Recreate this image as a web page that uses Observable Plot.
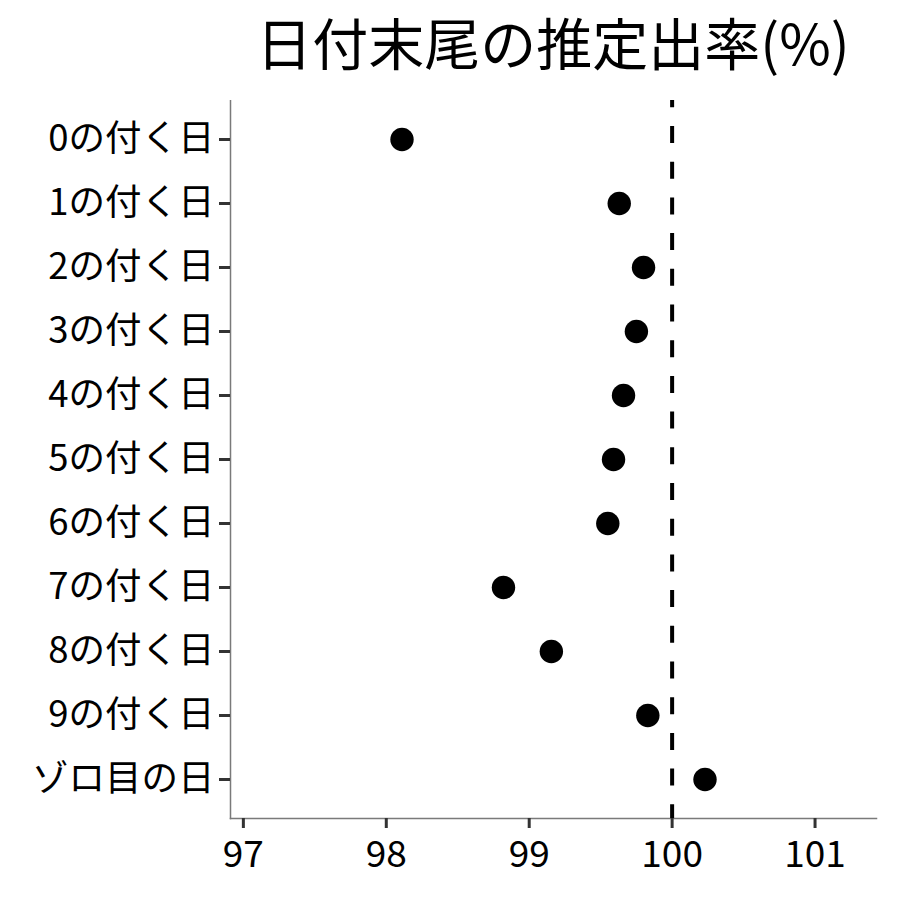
<!DOCTYPE html>
<html>
<head>
<meta charset="utf-8">
<script src="https://cdn.jsdelivr.net/npm/d3@7"></script>
<script src="https://cdn.jsdelivr.net/npm/@observablehq/plot@0.6"></script>
<style>
  html, body { margin: 0; padding: 0; background: #fff; }
  #title {
    width: 900px; height: 100px; box-sizing: border-box;
    padding-left: 206px; padding-top: 0; text-align: center;
    font-family: "Noto Sans CJK JP", sans-serif; font-size: 56px;
    line-height: normal; color: #000; font-weight: 400;
  }
  svg { display: block; }
</style>
</head>
<body>
<div id="title">日付末尾の推定出率(%)</div>
<div id="chart"></div>
<script>
const categories = ["0の付く日","1の付く日","2の付く日","3の付く日","4の付く日","5の付く日","6の付く日","7の付く日","8の付く日","9の付く日","ゾロ目の日"];
const rates = [98.11, 99.63, 99.80, 99.75, 99.66, 99.59, 99.55, 98.82, 99.155, 99.83, 100.23];
const xTicks = [97, 98, 99, 100, 101];
const refValue = [100];

const data = categories.map((c, i) => ({cat: c, rate: rates[i]}));
const font = '"Noto Sans CJK JP", sans-serif';

const chart = Plot.plot({
  width: 900,
  height: 800,
  marginTop: 0,
  marginBottom: 82,
  marginLeft: 230,
  marginRight: 24,
  style: {fontFamily: font, color: "#000", background: "#fff"},
  x: {domain: [96.91, 101.43], ticks: xTicks, tickFormat: d => String(d)},
  y: {type: "point", domain: categories, padding: 0.59},
  marks: [
    Plot.frame({anchor: "left", stroke: "#7a7a7a", strokeWidth: 1.5}),
    Plot.frame({anchor: "bottom", stroke: "#7a7a7a", strokeWidth: 1.5}),
    Plot.axisX({ticks: xTicks, tickFormat: d => String(d), tickSize: 10, tickPadding: 12, strokeWidth: 3, stroke: "#333", fontSize: 37, fill: "#000", label: null}),
    Plot.axisY({tickSize: 11, tickPadding: 5, strokeWidth: 3, stroke: "#333", fontSize: 36.5, fill: "#000", label: null}),
    Plot.ruleX(refValue, {stroke: "#000", strokeWidth: 4, strokeDasharray: "17,18.7", strokeDashoffset: 9.7}),
    Plot.dot(data, {x: "rate", y: "cat", r: 11.7, fill: "#000", stroke: "none"})
  ]
});
document.getElementById("chart").appendChild(chart);
</script>
</body>
</html>
